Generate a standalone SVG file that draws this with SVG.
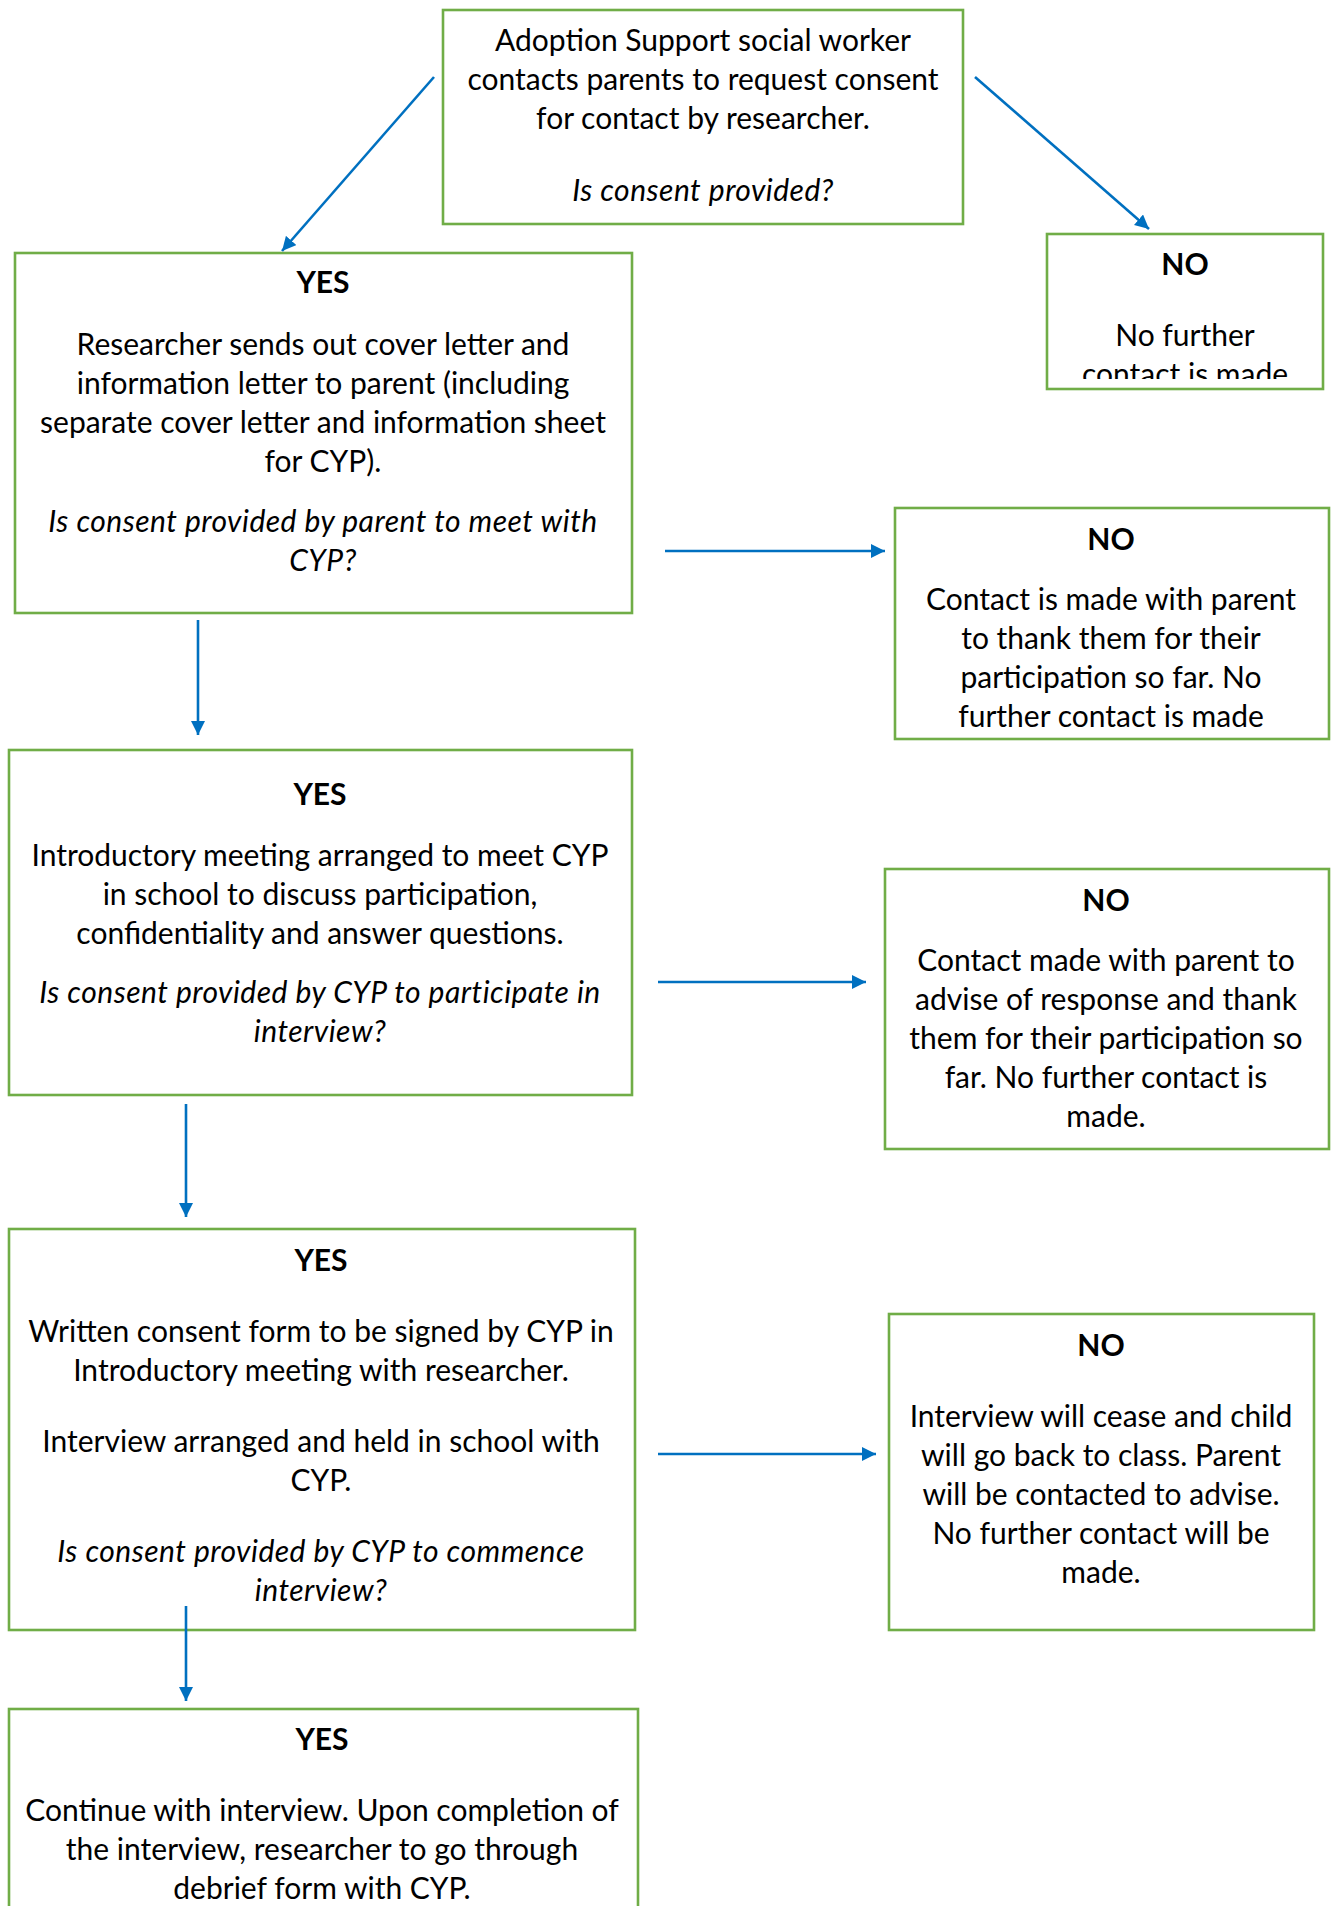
<svg xmlns="http://www.w3.org/2000/svg" width="1336" height="1906" viewBox="0 0 1336 1906">
  <style>
    .box { fill: #ffffff; stroke: #70AD47; stroke-width: 2.6; }
    .t { font-family: Lato, "Open Sans", "Liberation Sans", sans-serif; font-size: 30px; fill: #000000; text-anchor: middle; }
    .b { font-weight: bold; }
    .i { font-style: italic; letter-spacing: 0.5px; }
    .arrow { fill: none; stroke: #0070C0; stroke-width: 2.6; marker-end: url(#head); }
  </style>
  <defs>
    <marker id="head" markerUnits="userSpaceOnUse" markerWidth="14" markerHeight="14" viewBox="0 0 14 14" refX="14" refY="7" orient="auto">
      <path d="M0,0 L14,7 L0,14 z" fill="#0070C0"/>
    </marker>
    <clipPath id="clipNo1">
      <rect x="1046" y="233" width="277" height="146"/>
    </clipPath>
  </defs>
  <rect width="1336" height="1906" fill="#ffffff"/>

  <g id="start">
    <rect class="box" x="443" y="10" width="520" height="214"/>
    <text class="t" x="703" y="51">Adoption Support social worker</text>
    <text class="t" x="703" y="90">contacts parents to request consent</text>
    <text class="t" x="703" y="129">for contact by researcher.</text>
    <text class="t i" x="703" y="201">Is consent provided?</text>
  </g>

  <g id="no1">
    <rect class="box" x="1047" y="234" width="276" height="155"/>
    <g clip-path="url(#clipNo1)">
      <text class="t b" x="1185" y="275">NO</text>
      <text class="t" x="1185" y="346">No further</text>
      <text class="t" x="1185" y="385">contact is made</text>
    </g>
  </g>

  <g id="yes1">
    <rect class="box" x="15" y="253" width="617" height="360"/>
    <text class="t b" x="323" y="293">YES</text>
    <text class="t" x="323" y="355">Researcher sends out cover letter and</text>
    <text class="t" x="323" y="394">information letter to parent (including</text>
    <text class="t" x="323" y="433">separate cover letter and information sheet</text>
    <text class="t" x="323" y="472">for CYP).</text>
    <text class="t i" x="323" y="532">Is consent provided by parent to meet with</text>
    <text class="t i" x="323" y="571">CYP?</text>
  </g>

  <g id="no2">
    <rect class="box" x="895" y="508" width="434" height="231"/>
    <text class="t b" x="1111" y="550">NO</text>
    <text class="t" x="1111" y="610">Contact is made with parent</text>
    <text class="t" x="1111" y="649">to thank them for their</text>
    <text class="t" x="1111" y="688">participation so far. No</text>
    <text class="t" x="1111" y="727">further contact is made</text>
  </g>

  <g id="yes2">
    <rect class="box" x="9" y="750" width="623" height="345"/>
    <text class="t b" x="320" y="805">YES</text>
    <text class="t" x="320" y="866">Introductory meeting arranged to meet CYP</text>
    <text class="t" x="320" y="905">in school to discuss participation,</text>
    <text class="t" x="320" y="944">confidentiality and answer questions.</text>
    <text class="t i" x="320" y="1003">Is consent provided by CYP to participate in</text>
    <text class="t i" x="320" y="1042">interview?</text>
  </g>

  <g id="no3">
    <rect class="box" x="885" y="869" width="444" height="280"/>
    <text class="t b" x="1106" y="911">NO</text>
    <text class="t" x="1106" y="971">Contact made with parent to</text>
    <text class="t" x="1106" y="1010">advise of response and thank</text>
    <text class="t" x="1106" y="1049">them for their participation so</text>
    <text class="t" x="1106" y="1088">far. No further contact is</text>
    <text class="t" x="1106" y="1127">made.</text>
  </g>

  <g id="yes3">
    <rect class="box" x="9" y="1229" width="626" height="401"/>
    <text class="t b" x="321" y="1271">YES</text>
    <text class="t" x="321" y="1342">Written consent form to be signed by CYP in</text>
    <text class="t" x="321" y="1381">Introductory meeting with researcher.</text>
    <text class="t" x="321" y="1452">Interview arranged and held in school with</text>
    <text class="t" x="321" y="1491">CYP.</text>
    <text class="t i" x="321" y="1562">Is consent provided by CYP to commence</text>
    <text class="t i" x="321" y="1601">interview?</text>
  </g>

  <g id="no4">
    <rect class="box" x="889" y="1314" width="425" height="316"/>
    <text class="t b" x="1101" y="1356">NO</text>
    <text class="t" x="1101" y="1427">Interview will cease and child</text>
    <text class="t" x="1101" y="1466">will go back to class. Parent</text>
    <text class="t" x="1101" y="1505">will be contacted to advise.</text>
    <text class="t" x="1101" y="1544">No further contact will be</text>
    <text class="t" x="1101" y="1583">made.</text>
  </g>

  <g id="yes4">
    <rect class="box" x="9" y="1709" width="629" height="230"/>
    <text class="t b" x="322" y="1750">YES</text>
    <text class="t" x="322" y="1821">Continue with interview. Upon completion of</text>
    <text class="t" x="322" y="1860">the interview, researcher to go through</text>
    <text class="t" x="322" y="1899">debrief form with CYP.</text>
  </g>

  <g id="connectors">
    <line class="arrow" x1="434" y1="77" x2="282" y2="251"/>
    <line class="arrow" x1="975" y1="77" x2="1149" y2="229"/>
    <line class="arrow" x1="665" y1="551" x2="885" y2="551"/>
    <line class="arrow" x1="198" y1="620" x2="198" y2="735"/>
    <line class="arrow" x1="658" y1="982" x2="866" y2="982"/>
    <line class="arrow" x1="186" y1="1104" x2="186" y2="1217"/>
    <line class="arrow" x1="658" y1="1454" x2="876" y2="1454"/>
    <line class="arrow" x1="186" y1="1606" x2="186" y2="1701"/>
  </g>
</svg>
